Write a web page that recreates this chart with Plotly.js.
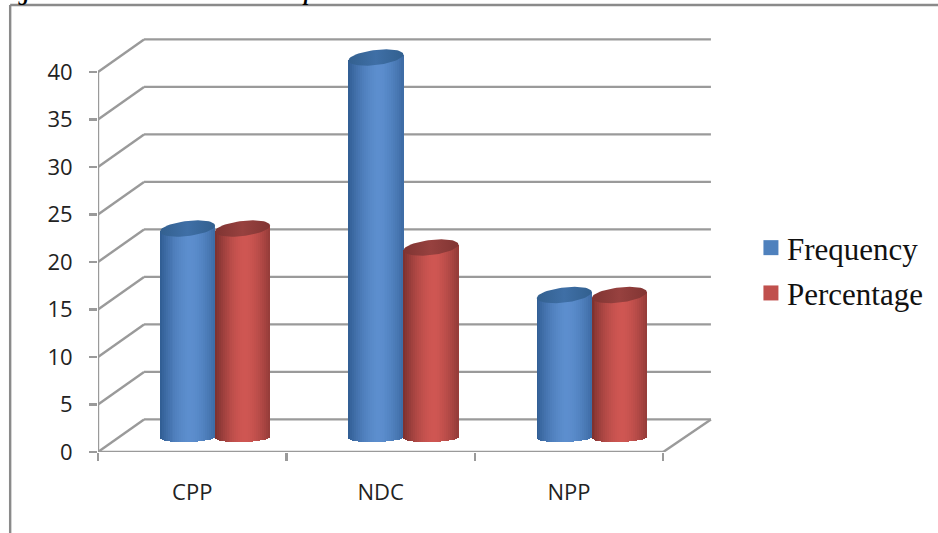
<!DOCTYPE html>
<html><head><meta charset="utf-8">
<script src="https://cdn.plot.ly/plotly-3.0.1.min.js"></script>
<style>html,body{margin:0;padding:0;background:#fff;overflow:hidden}#c{width:938px;height:533px}</style></head>
<body><div id="c"></div>
<script>
const categories = ['CPP','NDC','NPP'];
const frequency = [22,40,15];
const percentage = [22,20,15];
const yTicks = [0,5,10,15,20,25,30,35,40];

// layout geometry
const W=938,H=533, L=98.3,R=711,PR=938,T=35,B=452;
const pxX=188.33, pxY=9.5;
const dx=46/pxX, dy=32.6/pxY;         // depth of the 3D wall
const zero=(452-437.5)/pxY;           // cylinder floor sits mid-depth
const cxOff=0.5+0.121, half=27.5/pxX;
const ry=7.6/pxY, tilt=3/pxY, rb=4.6/pxY, tiltB=0.7/pxY;
const N=28;
const GRID='#9a9a9a';

function shade(c,e,t){ // t in -1..1, c center color, e edge color
  const k=Math.pow(Math.abs(t-0.1)/1.1,1.7), a=Math.min(1,k);
  return 'rgb('+c.map((v,i)=>Math.round(v+(e[i]-v)*a)).join(',')+')';
}
function cylinders(vals,side,c,e){
  const xs=[],base=[],ys=[],cols=[],w=[];
  vals.forEach((v,i)=>{
    const cx=i+cxOff+side*half;
    for(let s=0;s<N;s++){
      const t=-1+(2*s+1)/N;
      const b=zero-rb*Math.sqrt(1-t*t)+tiltB*t;
      const top=zero+v+tilt*t;
      xs.push(cx+t*half);base.push(b);ys.push(top-b);cols.push(shade(c,e,t));w.push(2*half/N*1.25);
    }
  });
  return {type:'bar',x:xs,y:ys,base:base,width:w,marker:{color:cols,line:{width:0}},showlegend:false,hoverinfo:'skip'};
}
function caps(vals,side,colorscale){
  return vals.map((v,i)=>{
    const cx=i+cxOff+side*half,xs=[],ys=[];
    for(let a=0;a<=64;a++){
      const th=a/64*2*Math.PI;
      xs.push(cx+half*Math.cos(th));
      ys.push(zero+v+ry*Math.sin(th)+tilt*Math.cos(th));
    }
    return {type:'scatter',mode:'lines',x:xs,y:ys,fill:'toself',line:{width:0,color:colorscale[1][1]},
      fillgradient:{type:'horizontal',colorscale:colorscale},showlegend:false,hoverinfo:'skip'};
  });
}
const blueCap=[[0,'#33608f'],[0.5,'#3f6fa6'],[1,'#32608f']];
const redCap=[[0,'#7f3432'],[0.5,'#97413f'],[1,'#813533']];

const legendTraces=[['Frequency','#4f81bd'],['Percentage','#c0504d']].map(([n,col])=>({
  type:'scatter',mode:'markers',x:[null],y:[null],name:n,legendgroup:n,marker:{symbol:'square',size:15,color:col},hoverinfo:'skip'}));

const traces=[cylinders(frequency,-1,[92,142,206],[48,92,146]),
  cylinders(percentage,1,[207,86,82],[122,48,46]),
  ...caps(frequency,-1,blueCap),...caps(percentage,1,redCap),...legendTraces];

const shapes=[];
const ln=(x0,y0,x1,y1,w)=>({type:'line',xref:'x',yref:'y',x0,y0,x1,y1,layer:'below',line:{color:GRID,width:w||2.4}});
yTicks.forEach(v=>{
  shapes.push(ln(0,v,dx,v+dy));
  shapes.push(ln(dx,v+dy,(R-L)/pxX,v+dy));
});
shapes.push(ln(0,0,0,40));               // value axis
shapes.push(ln(0,0,3,0));                // category axis
shapes.push(ln(3,0,(R-L)/pxX,dy));       // floor edge
// outer picture frame
const fx=(10.5-L)/(PR-L), fy=(B-5)/(B-T);
shapes.push({type:'line',xref:'paper',yref:'paper',x0:fx,x1:fx,y0:(B-H)/(B-T),y1:fy,layer:'below',line:{color:'#8a8a8a',width:2.4}});
shapes.push({type:'line',xref:'paper',yref:'paper',x0:fx,x1:(W-L)/(PR-L),y0:fy,y1:fy,layer:'below',line:{color:'#8a8a8a',width:2.4}});

const clipped=(text,x)=>({xref:'paper',yref:'paper',x:(x-L)/(PR-L),xanchor:'left',y:(B-6)/(B-T),yanchor:'bottom',showarrow:false,
  text:text,font:{family:'"Liberation Serif",serif',size:21,color:'#000',weight:'bold',style:'italic'},borderpad:0});

const layout={width:W,height:H,autosize:false,paper_bgcolor:'#fff',plot_bgcolor:'rgba(0,0,0,0)',
  margin:{l:L,r:W-PR,t:T,b:H-B,pad:0},barmode:'overlay',bargap:0,shapes,
  font:{family:'"Open Sans",sans-serif',color:'#222'},
  xaxis:{range:[0,(PR-L)/pxX],tickmode:'array',tickvals:[0.5,1.5,2.5],ticktext:categories,ticks:'',
    minor:{tickmode:'array',tickvals:[0,1,2,3],ticks:'outside',ticklen:8,tickwidth:2.4,tickcolor:GRID},
    ticklabelstandoff:25,tickfont:{size:22,color:'#222'},showgrid:false,zeroline:false,showline:false,fixedrange:true},
  yaxis:{range:[0,(B-T)/pxY],tickmode:'array',tickvals:yTicks,ticks:'outside',ticklen:8,tickwidth:2.4,tickcolor:GRID,
    ticklabelstandoff:12,tickfont:{size:22,color:'#222'},showgrid:false,zeroline:false,showline:false,fixedrange:true},
  legend:{x:(747-L)/(PR-L),xanchor:'left',y:(B-270.5)/(B-T),yanchor:'middle',bgcolor:'rgba(0,0,0,0)',traceorder:'grouped',tracegroupgap:2,
    font:{family:'"Liberation Serif",serif',size:31,color:'#111'},itemclick:false,itemdoubleclick:false},
  annotations:[clipped('Figure',-3),clipped('p',301)]
};
Plotly.newPlot('c',traces,layout,{displayModeBar:false,staticPlot:true}).then(()=>{
  // swatches sit closer to their labels than the default legend spacing
  document.querySelectorAll('#c .legendpoints').forEach(g=>g.setAttribute('transform','translate(4,0)'));
});
</script></body></html>
